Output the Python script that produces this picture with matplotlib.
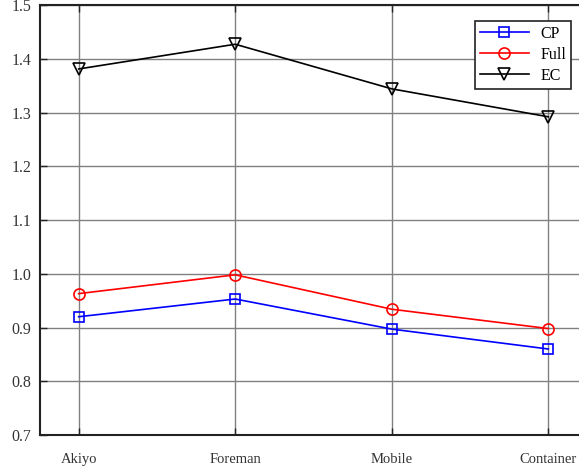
import matplotlib.pyplot as plt
import numpy as np

# sequences and ratio values per method
sequences = ["Akiyo", "Foreman", "Mobile", "Container"]
cp = [0.920, 0.953, 0.897, 0.860]
full = [0.963, 0.998, 0.934, 0.898]
ec = [1.381, 1.427, 1.344, 1.292]

plt.rcParams['font.family'] = ['Liberation Serif', 'DejaVu Serif']

fig = plt.figure(figsize=(5.79, 4.70), dpi=100)
ax = fig.add_axes([40 / 579, 35 / 470, 547 / 579, 430 / 470])

x = np.arange(1, len(sequences) + 1)
ax.plot(x, cp, color='blue', marker='s', mfc='none', ms=7, lw=1.2, mew=1.2, label='CP')
ax.plot(x, full, color='red', marker='o', mfc='none', ms=8, lw=1.2, mew=1.2, label='Full')
ax.plot(x, ec, color='black', marker='v', mfc='none', ms=9, lw=1.2, mew=1.2, label='EC')

ax.set_xlim(0.753, 4.247)
ax.set_ylim(0.7, 1.5)
ax.set_xticks(x)
ax.set_xticklabels(sequences, fontsize=10.5)
yt = np.arange(0.7, 1.51, 0.1)
ax.set_yticks(yt)
ax.set_yticklabels([f"{v:.1f}" for v in yt], fontsize=11.5)
ax.tick_params(direction='in', top=True, right=True, length=5, width=1, colors='#222222',
               labelcolor='#333333')
ax.tick_params(axis='x', pad=13)
ax.tick_params(axis='y', pad=6)
ax.grid(True, color='#808080', lw=1)
for s in ax.spines.values():
    s.set_linewidth(1.5)
    s.set_color('#222222')

leg = ax.legend(loc='upper right', bbox_to_anchor=(571 / 579, 1 - 21 / 470),
                bbox_transform=fig.transFigure, fancybox=False, framealpha=1,
                edgecolor='#222222', fontsize=11.5, handlelength=3.1, borderpad=0.3,
                labelspacing=0.32, handletextpad=0.7, borderaxespad=0)
leg.get_frame().set_linewidth(1.2)

fig.savefig('out.png', dpi=100)
